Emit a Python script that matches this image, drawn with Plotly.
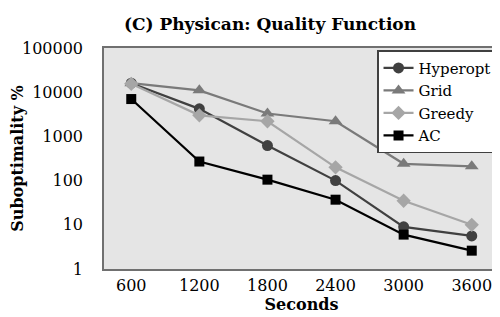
import plotly.graph_objects as go

seconds = ["600", "1200", "1800", "2400", "3000", "3600"]
hyperopt = [16000, 4200, 620, 100, 9, 5.6]
grid = [16000, 11000, 3300, 2200, 240, 210]
greedy = [15500, 3000, 2200, 200, 35, 10]
ac = [7000, 270, 105, 37, 6, 2.6]

series = [
    ("Hyperopt", hyperopt, "#404040", "circle", 11),
    ("Grid", grid, "#7a7a7a", "triangle-up", 12),
    ("Greedy", greedy, "#a6a6a6", "diamond", 11),
    ("AC", ac, "#000000", "square", 10),
]

fig = go.Figure()
for name, vals, color, sym, size in series:
    fig.add_trace(go.Scatter(
        x=seconds, y=vals, name=name, mode="lines+markers",
        line=dict(color=color, width=2.2),
        marker=dict(symbol=sym, size=size, color=color),
    ))

font = "DejaVu Serif"
fig.update_layout(
    width=500, height=317,
    margin=dict(l=96, r=9, t=40, b=56),
    paper_bgcolor="white",
    plot_bgcolor="#e5e5e5",
    font=dict(family=font, size=16, color="black"),
    title=dict(text="<b>(C) Physican: Quality Function</b>", font=dict(size=17, family=font),
               x=0.524, xanchor="center", xref="container",
               y=0.95, yanchor="middle", yref="container"),
    showlegend=True,
    legend=dict(x=0.995, xanchor="right", y=0.99, yanchor="top",
                bgcolor="white", bordercolor="#404040", borderwidth=1.5,
                font=dict(size=15, family=font), tracegroupgap=0, itemwidth=30),
    xaxis=dict(
        type="category", showgrid=False, zeroline=False, automargin=False,
        showline=True, linecolor="#707070", linewidth=1.5, mirror=True,
        ticks="outside", ticklen=1, tickcolor="rgba(0,0,0,0)",
        title=dict(text="<b>Seconds</b>", font=dict(size=16, family=font), standoff=0),
    ),
    yaxis=dict(
        type="log", range=[0, 5], showgrid=False, zeroline=False, automargin=False,
        showline=True, linecolor="#707070", linewidth=1.5, mirror=True,
        tickvals=[1, 10, 100, 1000, 10000, 100000],
        ticktext=["1", "10", "100", "1000", "10000", "100000"],
        ticks="outside", ticklen=16, tickcolor="rgba(0,0,0,0)",
        title=dict(text="<b>Suboptimality %</b>", font=dict(size=16, family=font), standoff=6),
    ),
)
fig.write_html("out.html")
